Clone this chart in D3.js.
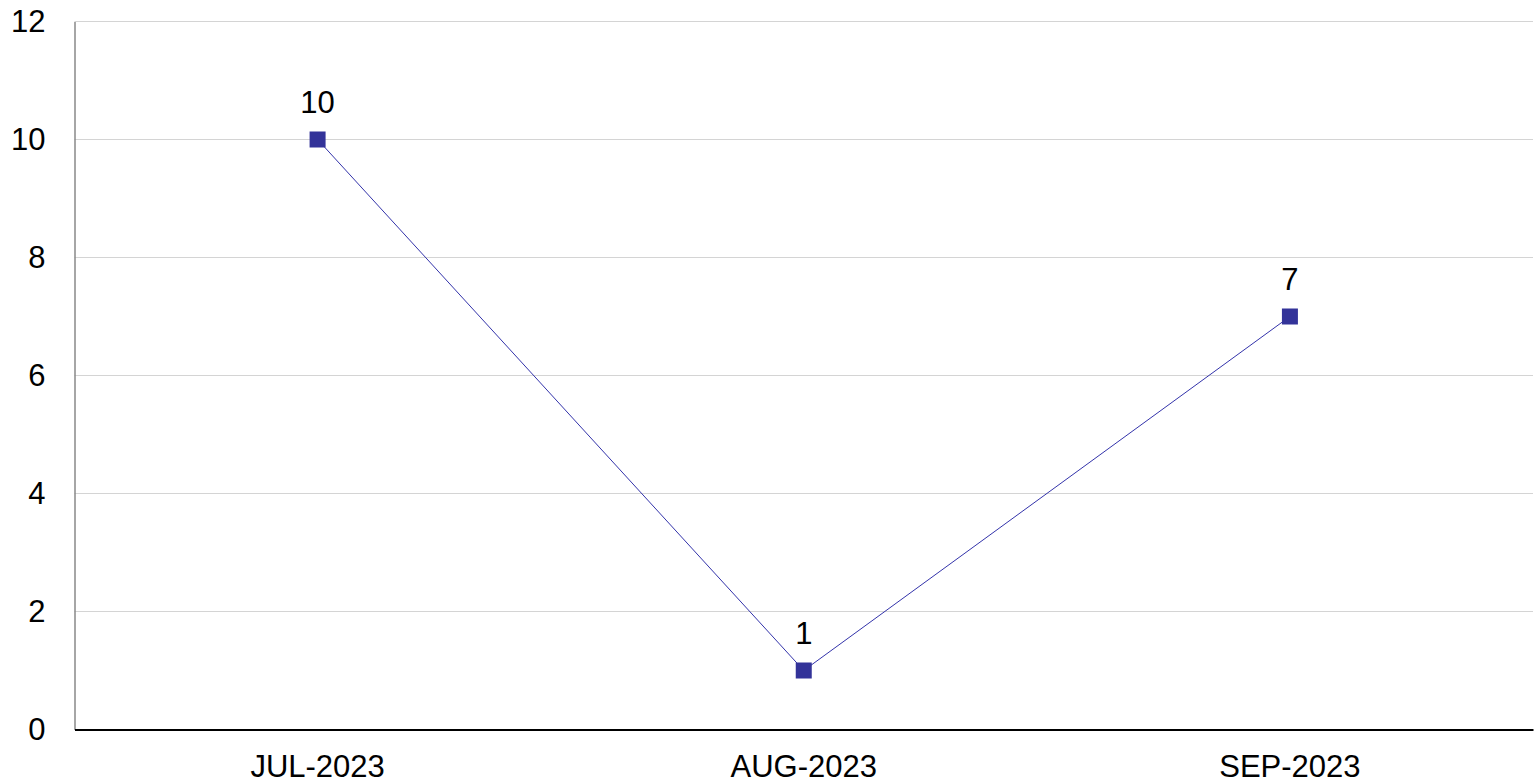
<!DOCTYPE html>
<html><head><meta charset="utf-8">
<script src="https://cdn.jsdelivr.net/npm/d3@7"></script>
<style>html,body{margin:0;padding:0;background:#fff;overflow:hidden}</style>
</head><body>
<svg id="c" width="1534" height="783"></svg>
<script>
const categories = ["JUL-2023", "AUG-2023", "SEP-2023"];
const values = [10, 1, 7];
const yTicks = [0, 2, 4, 6, 8, 10, 12];

const svg = d3.select("#c");
const m = {left: 74.5, right: 1533, top: 21.5, bottom: 729.5};
const x = d3.scaleBand().domain(categories).range([m.left, m.right]);
const y = d3.scaleLinear().domain([0, 12]).range([m.bottom, m.top]);
const font = "Liberation Sans, Arial, sans-serif";
const fs = 31;

// gridlines
svg.append("g").selectAll("line").data(yTicks.filter(d => d > 0)).join("line")
  .attr("x1", m.left).attr("x2", m.right)
  .attr("y1", d => y(d)).attr("y2", d => y(d))
  .attr("stroke", "#d4d4d4").attr("stroke-width", 1);

// y axis
const ya = svg.append("g").attr("transform", `translate(${m.left},0)`)
  .call(d3.axisLeft(y).tickValues(yTicks).tickSize(0).tickPadding(29));
ya.select(".domain").attr("stroke", "#888").attr("stroke-width", 1.5);
ya.selectAll("text").attr("font-family", font).attr("font-size", fs).attr("fill", "#000");

// x axis
const xa = svg.append("g").attr("transform", `translate(0,${m.bottom})`)
  .call(d3.axisBottom(x).tickSize(0).tickPadding(25));
xa.select(".domain").attr("stroke", "#000").attr("stroke-width", 2);
xa.selectAll("text").attr("font-family", font).attr("font-size", fs).attr("fill", "#000");

const cx = d => x(d) + x.bandwidth() / 2;
const data = categories.map((c, i) => ({c, v: values[i]}));

svg.append("path").datum(data)
  .attr("d", d3.line().x(d => cx(d.c)).y(d => y(d.v)))
  .attr("fill", "none").attr("stroke", "#3333aa").attr("stroke-width", 1);

svg.append("g").selectAll("rect").data(data).join("rect")
  .attr("x", d => cx(d.c) - 8).attr("y", d => y(d.v) - 8)
  .attr("width", 16).attr("height", 16).attr("fill", "#333399");

svg.append("g").selectAll("text").data(data).join("text")
  .attr("x", d => cx(d.c)).attr("y", d => y(d.v) - 26.5)
  .attr("text-anchor", "middle").attr("font-family", font).attr("font-size", fs)
  .text(d => d.v);
</script>
</body></html>
